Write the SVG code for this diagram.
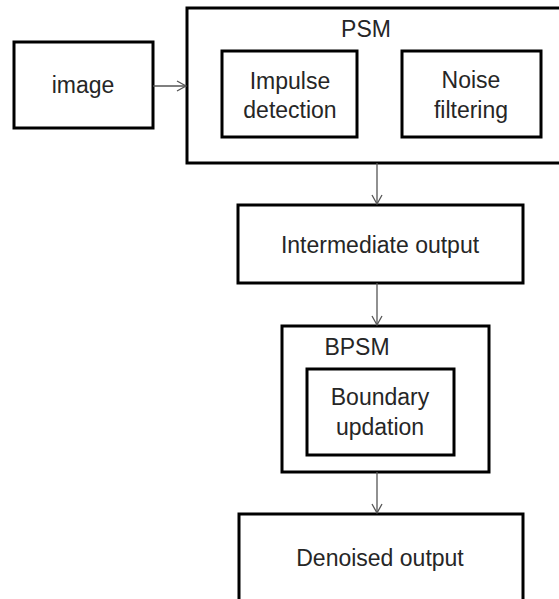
<svg xmlns="http://www.w3.org/2000/svg" width="559" height="599" viewBox="0 0 559 599">
<style>
.box{fill:#fff;stroke:#000;stroke-width:3}
.t{font-family:"Liberation Sans",Arial,sans-serif;font-size:23px;fill:#262626;text-anchor:middle}
.c{fill:none;stroke:#555;stroke-width:1.3}
</style>
<defs>
<marker id="ah" markerWidth="12" markerHeight="12" refX="10" refY="6" orient="auto" markerUnits="userSpaceOnUse">
<path d="M1,1 L10,6 L1,11" fill="none" stroke="#555" stroke-width="1.3"/>
</marker>
</defs>
<rect width="559" height="599" fill="#fff"/>
<g id="image">
<rect class="box" x="14" y="42" width="139" height="86"/>
<text class="t" x="83" y="93">image</text>
</g>
<g id="psm">
<rect class="box" x="187" y="8" width="380" height="155"/>
<text class="t" x="366" y="37">PSM</text>
</g>
<g id="impulse">
<rect class="box" x="222" y="51" width="135" height="86"/>
<text class="t" x="290" y="89">Impulse</text>
<text class="t" x="290" y="118">detection</text>
</g>
<g id="noise">
<rect class="box" x="402" y="51" width="139" height="86"/>
<text class="t" x="471" y="88">Noise</text>
<text class="t" x="471" y="118">filtering</text>
</g>
<g id="intermediate">
<rect class="box" x="238" y="205" width="285" height="78"/>
<text class="t" x="380" y="253">Intermediate output</text>
</g>
<g id="bpsm">
<rect class="box" x="282" y="326" width="207" height="146"/>
<text class="t" x="357" y="355">BPSM</text>
</g>
<g id="boundary">
<rect class="box" x="307" y="369" width="147" height="86"/>
<text class="t" x="380" y="405">Boundary</text>
<text class="t" x="380" y="435">updation</text>
</g>
<g id="denoised">
<rect class="box" x="239" y="514" width="284" height="90"/>
<text class="t" x="380" y="566">Denoised output</text>
</g>
<g id="connectors">
<line class="c" x1="153" y1="86" x2="186" y2="86" marker-end="url(#ah)"/>
<line class="c" x1="377" y1="163" x2="377" y2="204" marker-end="url(#ah)"/>
<line class="c" x1="377" y1="283" x2="377" y2="325" marker-end="url(#ah)"/>
<line class="c" x1="377" y1="472" x2="377" y2="513" marker-end="url(#ah)"/>
</g>
</svg>
